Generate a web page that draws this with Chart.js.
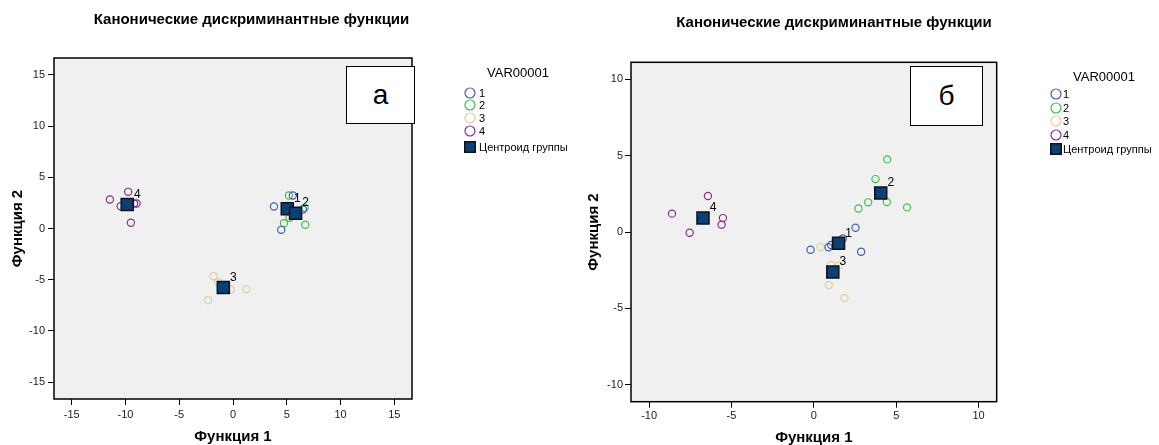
<!DOCTYPE html>
<html>
<head>
<meta charset="utf-8">
<script src="https://cdn.jsdelivr.net/npm/chart.js@4.4.1/dist/chart.umd.min.js"></script>
<style>
  body { margin: 0; background: #fff; font-family: Arial, "Liberation Sans", sans-serif; }
  #wrap { position: relative; width: 1159px; height: 445px; overflow: hidden; }
  #wrap canvas { position: absolute; top: 0; }
  .ltitle { position: absolute; width: 100px; text-align: center; font-size: 13px; line-height: 14px; color: #000; }
  .lrow { position: absolute; height: 14px; font-size: 11px; line-height: 14px; color: #000; white-space: nowrap; display: flex; align-items: center; }
  .lrow svg { display: block; }
  .panel { position: absolute; background: #fff; border: 1.5px solid #000; box-sizing: border-box;
           display: flex; align-items: center; justify-content: center; font-size: 28px; color: #000; }
</style>
</head>
<body>
<div id="wrap">
  <canvas id="chartA" width="503" height="445" style="left:0px"></canvas>
  <canvas id="chartB" width="508" height="445" style="left:580px"></canvas>
</div>
<script>
var chartTitle = 'Канонические дискриминантные функции';
var xTitle = 'Функция 1';
var yTitle = 'Функция 2';
var legendTitle = 'VAR00001';
var centroidName = 'Центроид группы';
var groupNames = ['1', '2', '3', '4'];
var panelLetters = ['а', 'б'];

// SPSS default group colours
var groupColors = ['#4560b5', '#3cc050', '#d8d29e', '#843384'];
var centroidColor = '#0b3f78';

// panel "а": points per group [функция 1, функция 2]
var a1 = [[3.81, 2.15], [4.49, -0.13], [5.57, 3.22], [6.5, 1.86], [5.0, 2.2]];
var a2 = [[5.2, 3.22], [4.74, 0.52], [6.72, 0.36], [6.66, 2.02], [5.26, 1.04]];
var a3 = [[-1.82, -4.66], [-1.39, -5.24], [-0.21, -5.96], [1.24, -5.93], [-2.32, -7.0]];
var a4 = [[-11.45, 2.83], [-9.75, 3.58], [-10.45, 2.18], [-8.97, 2.44], [-9.2, 2.44], [-9.5, 0.56]];
var aCentroids = [[5.05, 1.92], [5.82, 1.5], [-0.9, -5.76], [-9.84, 2.34]];

// panel "б"
var b1 = [[2.53, 0.28], [1.76, -0.42], [-0.2, -1.16], [0.89, -1.0], [1.05, -0.85], [2.87, -1.29]];
var b2 = [[4.45, 4.75], [3.74, 3.46], [4.43, 1.96], [3.3, 1.94], [2.71, 1.54], [5.66, 1.61]];
var b3 = [[0.41, -0.98], [1.05, -2.16], [1.5, -2.2], [0.91, -3.47], [1.86, -4.31]];
var b4 = [[-8.61, 1.2], [-6.43, 2.35], [-7.54, -0.05], [-5.52, 0.91], [-5.6, 0.48]];
var bCentroids = [[1.5, -0.74], [4.06, 2.55], [1.15, -2.62], [-6.73, 0.91]];

var aTicks = [-15, -10, -5, 0, 5, 10, 15];
var bTicks = [-10, -5, 0, 5, 10];

Chart.defaults.font.family = 'Arial, "Liberation Sans", sans-serif';

function toXY(list) {
    return list.map(p => ({ x: p[0], y: p[1] }));
}

// grey plot background and black frame around it
var framePlugin = {
    id: 'frame',
    beforeDraw(chart) {
        var a = chart.chartArea, ctx = chart.ctx;
        ctx.save();
        ctx.fillStyle = '#f0f0f0';
        ctx.fillRect(a.left, a.top, a.right - a.left, a.bottom - a.top);
        ctx.restore();
    },
    beforeDatasetsDraw(chart) {
        var a = chart.chartArea, ctx = chart.ctx;
        ctx.save();
        ctx.strokeStyle = '#000';
        ctx.lineWidth = 1.5;
        ctx.strokeRect(a.left, a.top, a.right - a.left, a.bottom - a.top);
        ctx.restore();
    }
};

// group numbers next to the centroids
var centroidLabels = {
    id: 'centroidLabels',
    afterDatasetsDraw(chart) {
        var ctx = chart.ctx;
        var pts = chart.data.datasets[0].data;
        ctx.save();
        ctx.font = '12px Arial, "Liberation Sans", sans-serif';
        ctx.fillStyle = '#000';
        ctx.textAlign = 'center';
        ctx.textBaseline = 'middle';
        pts.forEach((p, i) => {
            var px = chart.scales.x.getPixelForValue(p.x);
            var py = chart.scales.y.getPixelForValue(p.y);
            ctx.fillText(groupNames[i], px + 10, py - 10);
        });
        ctx.restore();
    }
};

function makePanel(id, groups, centroids, ticks, lay) {
    var datasets = [{
        label: centroidName,
        data: toXY(centroids),
        pointStyle: 'rect',
        pointRadius: 8.5,
        backgroundColor: centroidColor,
        borderColor: '#111',
        borderWidth: 1.5
    }];
    groups.forEach((g, i) => {
        datasets.push({
            label: groupNames[i],
            data: toXY(g),
            pointStyle: 'circle',
            pointRadius: 3.6,
            backgroundColor: 'rgba(0,0,0,0)',
            borderColor: groupColors[i],
            borderWidth: 1.2
        });
    });

    var axisFont = { size: 15, weight: 'bold', lineHeight: 1 };

    return new Chart(document.getElementById(id), {
        type: 'scatter',
        data: { datasets: datasets },
        options: {
            responsive: false,
            animation: false,
            events: [],
            layout: { padding: 0 },
            scales: {
                x: {
                    type: 'linear',
                    min: -lay.range, max: lay.range,
                    afterBuildTicks: s => { s.ticks = ticks.map(v => ({ value: v })); },
                    ticks: { font: { size: 11 }, color: '#222', padding: lay.xTickPad },
                    grid: { drawOnChartArea: false, drawTicks: true, tickLength: 6, color: '#000' },
                    border: { display: false },
                    title: { display: true, text: xTitle, font: axisFont, color: '#000',
                             padding: { top: 0, bottom: lay.xTitlePad } },
                    afterFit: s => { s.height = lay.xHeight; }
                },
                y: {
                    type: 'linear',
                    min: -lay.range, max: lay.range,
                    afterBuildTicks: s => { s.ticks = ticks.map(v => ({ value: v })); },
                    ticks: { font: { size: 11 }, color: '#222', padding: lay.yTickPad },
                    grid: { drawOnChartArea: false, drawTicks: true, tickLength: 6, color: '#000' },
                    border: { display: false },
                    title: { display: true, text: yTitle, font: axisFont, color: '#000',
                             padding: { top: lay.yTitlePad, bottom: 0 } },
                    afterFit: s => { s.width = lay.yWidth; }
                },
                // empty box on the right, keeps room for the legend
                spacer: {
                    axis: 'y',
                    position: 'right',
                    ticks: { display: false },
                    grid: { display: false },
                    border: { display: false },
                    afterFit: s => { s.width = lay.rightPad; }
                }
            },
            plugins: {
                legend: { display: false },
                tooltip: { enabled: false },
                title: {
                    display: true,
                    text: chartTitle,
                    color: '#000',
                    font: { size: 15, weight: 'bold', lineHeight: 1.2 },
                    padding: { top: lay.titleTop, bottom: lay.titleBottom }
                }
            }
        },
        plugins: [framePlugin, centroidLabels]
    });
}

var chartA = makePanel('chartA', [a1, a2, a3, a4], aCentroids, aTicks, {
    range: 16.65, rightPad: 91, yWidth: 54, xHeight: 46,
    titleTop: 10.5, titleBottom: 29.5, xTickPad: 3, yTickPad: 3, xTitlePad: 1, yTitlePad: 10
});
var chartB = makePanel('chartB', [b1, b2, b3, b4], bCentroids, bTicks, {
    range: 11.1, rightPad: 91.3, yWidth: 51, xHeight: 43.3,
    titleTop: 14, titleBottom: 30.3, xTickPad: 2, yTickPad: 2, xTitlePad: 0, yTitlePad: 6.5
});

var wrap = document.getElementById('wrap');

function addLegend(cfg) {
    var t = document.createElement('div');
    t.className = 'ltitle';
    t.textContent = legendTitle;
    t.style.left = (cfg.titleX - 50) + 'px';
    t.style.top = (cfg.titleY - 7) + 'px';
    wrap.appendChild(t);

    groupNames.forEach((name, i) => {
        var row = document.createElement('div');
        row.className = 'lrow';
        row.style.left = (cfg.markX - 6) + 'px';
        row.style.top = (cfg.rows[i] - 7) + 'px';
        row.innerHTML = '<svg width="12" height="12"><circle cx="6" cy="6" r="5" fill="none" stroke="' +
            groupColors[i] + '" stroke-width="1.2"/></svg><span style="margin-left:' + cfg.gap + 'px">' + name + '</span>';
        wrap.appendChild(row);
    });

    var row = document.createElement('div');
    row.className = 'lrow';
    row.style.left = (cfg.markX - 6) + 'px';
    row.style.top = (cfg.squareY - 7) + 'px';
    row.innerHTML = '<svg width="12" height="12"><rect x="0.75" y="0.75" width="10.5" height="10.5" fill="' +
        centroidColor + '" stroke="#111" stroke-width="1.5"/></svg><span style="margin-left:' + cfg.gap + 'px">' + centroidName + '</span>';
    wrap.appendChild(row);
}

function addLetter(letter, left, top, w, h) {
    var d = document.createElement('div');
    d.className = 'panel';
    d.textContent = letter;
    d.style.left = left + 'px';
    d.style.top = top + 'px';
    d.style.width = w + 'px';
    d.style.height = h + 'px';
    wrap.appendChild(d);
}

addLegend({ titleX: 518, titleY: 73, markX: 470, rows: [92.7, 105.3, 118, 130.7], squareY: 146.7, gap: 3 });
addLegend({ titleX: 1104, titleY: 76.7, markX: 1056, rows: [94, 107.7, 121.3, 135], squareY: 149.3, gap: 1 });

addLetter(panelLetters[0], 346, 66, 69, 58);
addLetter(panelLetters[1], 910, 66, 73, 60);
</script>
</body>
</html>
